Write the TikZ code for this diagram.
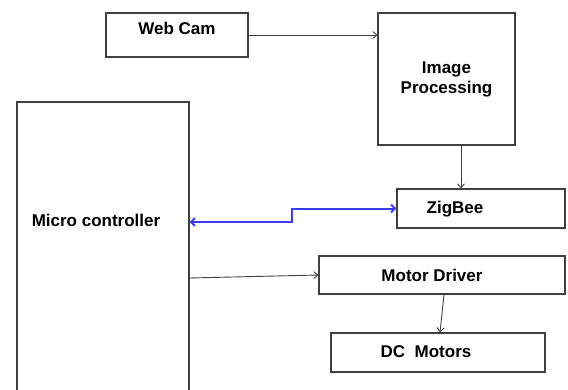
\documentclass[tikz,border=0pt]{standalone}
\usepackage{fontspec}
\setmainfont{Liberation Sans}
\usetikzlibrary{arrows.meta}
\definecolor{linegray}{HTML}{404040}
\definecolor{zblue}{HTML}{3C3CF0}
\tikzset{
  blk/.style={draw=linegray, line width=1.1pt, fill=white, inner sep=0pt, minimum width=#1},
  lbl/.style={font=\fontsize{17}{20}\selectfont\bfseries, inner sep=0pt, text=black, align=center},
  conn/.style={draw=linegray, line width=0.9pt, -{Straight Barb[length=4pt,width=7pt]}},
  bconn/.style={draw=zblue, line width=2pt, {Straight Barb[length=4pt,width=8pt]}-{Straight Barb[length=4pt,width=8pt]}}
}
\begin{document}
\begin{tikzpicture}[x=1pt,y=-1pt]
\useasboundingbox (0,0) rectangle (568,389);
% boxes
\node[blk=142pt, minimum height=44pt] (webcam) at (177,35) {};
\node[blk=137pt, minimum height=132pt] (improc) at (446.5,79) {};
\node[blk=172pt, minimum height=293pt] (micro) at (103,248.5) {};
\node[blk=168pt, minimum height=39pt] (zigbee) at (481,208.5) {};
\node[blk=246pt, minimum height=38pt] (motor) at (442,275) {};
\node[blk=214pt, minimum height=39pt] (dcm) at (438,352.5) {};
% labels
\node[lbl] (twebcam) at (177,28) {Web Cam};
\node[lbl] (timproc) at (446.5,79) {Image\\Processing};
\node[lbl] (tmicro) at (96,220) {Micro controller};
\node[lbl] (tzigbee) at (455,209) {ZigBee};
\node[lbl] (tmotor) at (432,275) {Motor Driver};
\node[lbl] (tdcm) at (426,352) {DC\ \ Motors};
% helper coordinates
\coordinate (ipout) at ([xshift=14.5pt]improc.south);
\coordinate (mzb) at ([yshift=26.5pt]micro.east);
\coordinate (mmot) at ([yshift=-29.5pt]micro.east);
\coordinate (stepx) at (292,0);
\coordinate (motout) at ([xshift=2pt]motor.south);
\coordinate (dcin) at ([xshift=2pt]dcm.north);
% connectors
\draw[conn] (webcam.east) -- (webcam.east -| improc.west);
\draw[conn] (ipout) -- (ipout |- zigbee.north);
\draw[bconn] (mzb) -- (stepx |- mzb) -- (stepx |- zigbee.west) -- (zigbee.west);
\draw[conn] (mmot) -- (motor.west);
\draw[conn] (motout) -- (dcin);
\end{tikzpicture}
\end{document}
